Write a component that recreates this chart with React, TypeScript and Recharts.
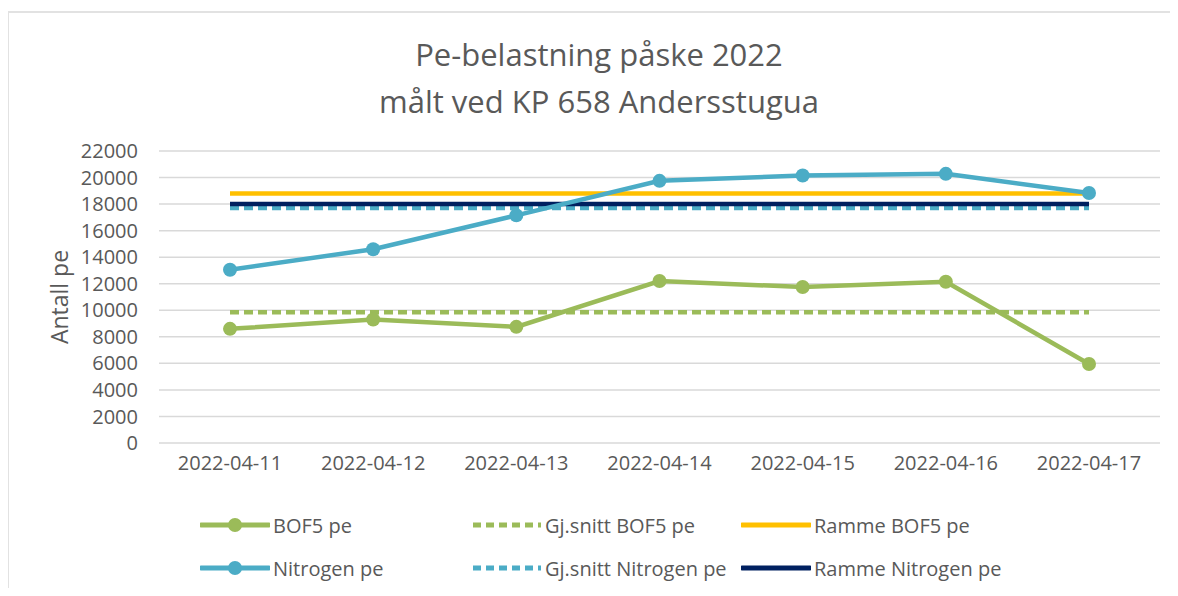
import React from "react";
import { LineChart, Line, XAxis, YAxis, CartesianGrid } from "recharts";

const categories = ["2022-04-11", "2022-04-12", "2022-04-13", "2022-04-14", "2022-04-15", "2022-04-16", "2022-04-17"];
const bof5 = [8600, 9300, 8750, 12200, 11750, 12150, 5950];
const nitrogen = [13050, 14600, 17150, 19750, 20150, 20280, 18830];
const avgBof5 = [9850, 9850, 9850, 9850, 9850, 9850, 9850];
const avgNitrogen = [17700, 17700, 17700, 17700, 17700, 17700, 17700];
const rammeBof5 = [18800, 18800, 18800, 18800, 18800, 18800, 18800];
const rammeNitrogen = [18000, 18000, 18000, 18000, 18000, 18000, 18000];
const yTicks = [0, 2000, 4000, 6000, 8000, 10000, 12000, 14000, 16000, 18000, 20000, 22000];

const data = categories.map((c, i) => ({
  date: c,
  bof5: bof5[i],
  nitrogen: nitrogen[i],
  avgBof5: avgBof5[i],
  avgNitrogen: avgNitrogen[i],
  rammeBof5: rammeBof5[i],
  rammeNitrogen: rammeNitrogen[i],
}));

const FONT = "'Open Sans', sans-serif";
const TXT = "#595959";

const series = [
  { key: "bof5", name: "BOF5 pe", color: "#9BBB59", dash: undefined as string | undefined, dot: true },
  { key: "avgBof5", name: "Gj.snitt BOF5 pe", color: "#9BBB59", dash: "9 5", dot: false },
  { key: "rammeBof5", name: "Ramme BOF5 pe", color: "#FFC000", dash: undefined, dot: false },
  { key: "nitrogen", name: "Nitrogen pe", color: "#4BACC6", dash: undefined, dot: true },
  { key: "avgNitrogen", name: "Gj.snitt Nitrogen pe", color: "#4BACC6", dash: "9 5", dot: false },
  { key: "rammeNitrogen", name: "Ramme Nitrogen pe", color: "#002060", dash: undefined, dot: false },
];

const legendCols = [200, 472, 741];
const legendRows = [525, 568];

export default function App() {
  const drawOrder = ["avgBof5", "avgNitrogen", "rammeBof5", "rammeNitrogen", "bof5", "nitrogen"];
  return (
    <div style={{ position: "relative", width: 1178, height: 596, margin: -8, background: "#fff", fontFamily: FONT }}>
      <div style={{ position: "absolute", left: 7, top: 11, right: 0, bottom: 0, borderTop: "2px solid #e2e2e2", borderLeft: "2px solid #e2e2e2" }} />
      <div style={{ position: "absolute", left: 0, top: 31, width: 1198, textAlign: "center", fontSize: 31, lineHeight: "47px", color: TXT }}>
        Pe-belastning påske 2022
        <br />
        målt ved KP 658 Andersstugua
      </div>
      <div style={{ position: "absolute", left: 0, top: 0 }}>
        <LineChart width={1178} height={596} data={data} margin={{ top: 151, right: 18, bottom: 113, left: 0 }}>
          <CartesianGrid vertical={false} stroke="#d9d9d9" strokeWidth={1.5} />
          <XAxis
            dataKey="date"
            axisLine={false}
            tickLine={false}
            tickSize={0}
            tickMargin={13}
            height={40}
            interval={0}
            padding={{ left: 71, right: 71 }}
            tick={{ fill: TXT, fontSize: 20, fontFamily: FONT }}
          />
          <YAxis
            width={159}
            domain={[0, 22000]}
            ticks={yTicks}
            interval={0}
            axisLine={false}
            tickLine={false}
            tickSize={0}
            tickMargin={21}
            tick={{ fill: TXT, fontSize: 20, fontFamily: FONT }}
            label={{ value: "Antall pe", angle: -90, position: "insideLeft", offset: 0, dx: 60, style: { fill: TXT, fontSize: 23, fontFamily: FONT, textAnchor: "middle" } }}
          />
          {drawOrder.map((k) => {
            const s = series.find((x) => x.key === k)!;
            return (
              <Line
                key={s.key}
                dataKey={s.key}
                name={s.name}
                stroke={s.color}
                strokeWidth={4.5}
                strokeDasharray={s.dash}
                dot={s.dot ? { r: 7, fill: s.color, stroke: s.color, strokeWidth: 0 } : false}
                activeDot={false}
                isAnimationActive={false}
              />
            );
          })}
        </LineChart>
      </div>
      {series.map((s, i) => {
        const col = i % 3;
        const row = Math.floor(i / 3);
        const x = legendCols[col];
        const y = legendRows[row];
        return (
          <div key={s.key} style={{ position: "absolute", left: x, top: y - 14, height: 28, display: "flex", alignItems: "center", whiteSpace: "nowrap" }}>
            <svg width={70} height={20} style={{ marginRight: 3 }}>
              <line x1={1} y1={10} x2={69} y2={10} stroke={s.color} strokeWidth={5} strokeDasharray={s.dash ? "8 5" : undefined} strokeLinecap={s.dash ? "butt" : "round"} />
              {s.dot && <circle cx={35} cy={10} r={7} fill={s.color} />}
            </svg>
            <span style={{ fontSize: 20, color: TXT }}>{s.name}</span>
          </div>
        );
      })}
    </div>
  );
}
